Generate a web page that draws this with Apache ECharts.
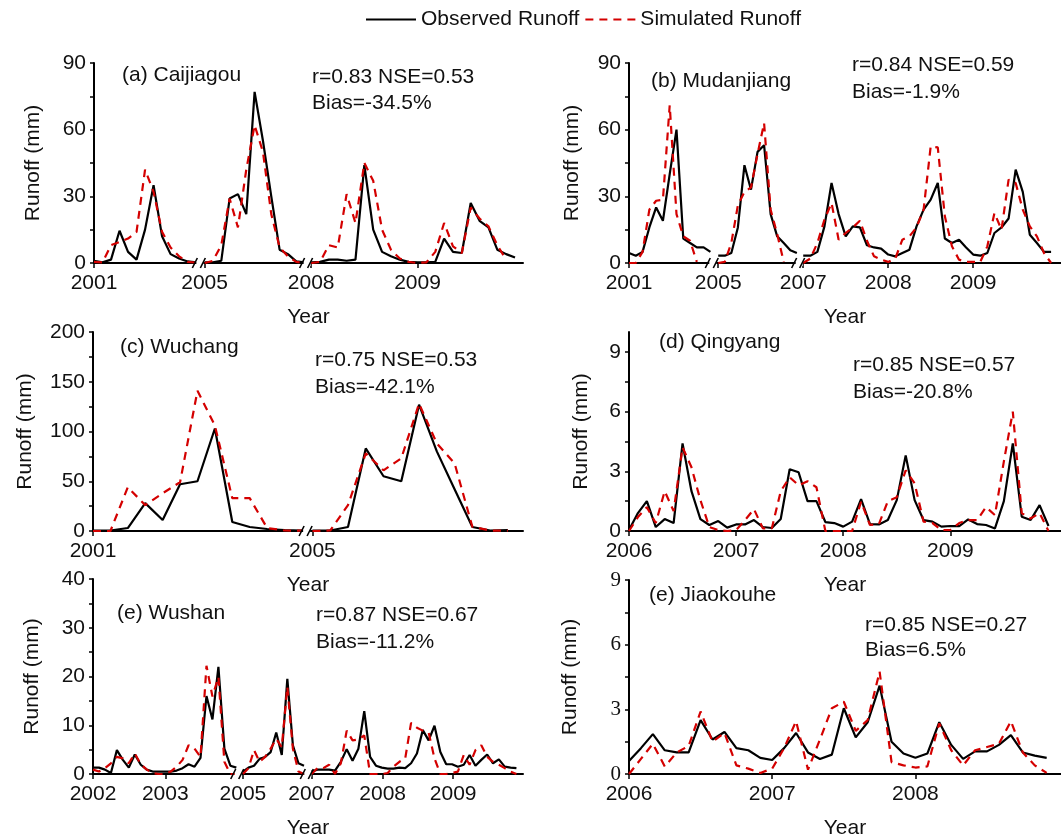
<!DOCTYPE html>
<html lang="en">
<head>
<meta charset="UTF-8">
<title>Observed vs simulated runoff</title>
<script src="https://cdn.jsdelivr.net/npm/echarts@6/dist/echarts.min.js"></script>
<style>
    html, body { margin: 0; padding: 0; background: #fff; }
    #main { width: 1061px; height: 840px; }
</style>
</head>
<body>
<div id="main"></div>

<script>
// ---- data, one block per station (x in months from the first tick) ----

// (a) Caijiagou
var yearsA = ['2001', '2005', '2008', '2009'];
var ticksA = [0, 12.48, 24.5, 36.5];
var breaksA = [12.0, 24.1];
var segStartA = [0, 12.48, 24.5];
var segStepA = [0.96, 0.94, 1];
var obsA = [
    [1, 0.3, 1.5, 14.5, 5, 1.5, 15, 35, 12, 4, 2, 0.7, 0.3],
    [0.3, 0.3, 1, 29, 31, 22, 77, 55, 30, 6, 4, 0.7, 0.3],
    [0.3, 0.5, 1.5, 1.5, 1, 1.5, 44, 15, 5, 3, 1.5, 0.5, 0.3, 0.3, 0.5, 11, 5, 4.5, 27, 19, 16, 6, 4, 2.5]
];
var simA = [
    [0.5, 0.3, 8, 9.5, 11, 14, 42, 32, 14, 7, 3, 0.5, 0.2],
    [0, 1, 8, 29, 16, 42, 62, 50, 22, 7, 3, 0.5, 0],
    [0, 0.5, 8, 7, 31, 18, 45, 37, 15, 6, 2, 0.5, 0, 0.3, 5, 18, 7.5, 4.5, 25, 20, 16.5, 8, 1.5, null]
];
var yTicksA = [0, 30, 60, 90];

// (b) Mudanjiang
var yearsB = ['2001', '2005', '2007', '2008', '2009'];
var ticksB = [0, 12.6, 24.6, 36.6, 48.6];
var breaksB = [11.9, 24.1];
var segStartB = [0, 12.6, 24.6];
var segStepB = [0.958, 0.925, 1];
var obsB = [
    [4.5, 3.3, 5, 16, 25, 19, 40, 60, 11, 9, 7, 7, 5],
    [3.3, 3.3, 4.5, 16, 44, 33, 50, 53, 22, 12, 9, 5.7, 4.5],
    [3.3, 3.3, 5, 16.5, 36, 22, 12, 16.5, 16, 8, 7, 6.5,
     3.8, 3, 4.5, 6, 16.5, 24, 28.5, 36, 11, 9, 10.5, 7,
     3.8, 3.3, 4.5, 13.5, 16, 20, 42, 32, 12.7, 9, 5, 5]
];
var simB = [
    [0, 0, 5, 24, 28, 28.5, 71, 22, 12, 10, 0.5, null, null],
    [0, 0.5, 9, 26, 32, 34, 49, 63, 24, 13, 0.5, null, null],
    [0, 2, 9, 19.5, 27, 10.5, 13.5, 16, 19, 10, 3, 1.5,
     0.5, 2, 10.5, 12, 16, 24, 52.5, 52, 21, 7.5, 1.5, 0.5,
     0.5, 0.5, 7.5, 22.5, 15, 37.5, 36, 24, 16.5, 12, 4.5, 0]
];
var yTicksB = [0, 30, 60, 90];

// (c) Wuchang
var yearsC = ['2001', '2005'];
var ticksC = [0, 12.35];
var breaksC = [12.05];
var segStartC = [0, 12.35];
var segStepC = [0.98, 1];
var obsC = [
    [0.5, 0.5, 3, 28, 11, 47, 50, 103, 9, 4, 2, 1, 0.5],
    [0.5, 0.5, 4, 83, 55, 50, 127, 80, 42, 4, 0.5, 1]
];
var simC = [
    [0, 0, 44, 26, 38, 49, 141, 106, 33, 33, 3, 0.5, 0.3],
    [0, 0.5, 26, 78, 61, 73, 128, 88, 68, 4.3, 0.5, 0.3]
];
var yTicksC = [0, 50, 100, 150, 200];

// (d) Qingyang
var yearsD = ['2006', '2007', '2008', '2009'];
var ticksD = [0, 12, 24, 36];
var breaksD = [];
var segStartD = [0];
var segStepD = [1];
var obsD = [[
    0.05, 0.9, 1.5, 0.2, 0.6, 0.4, 4.4, 2, 0.6, 0.3, 0.5, 0.17,
    0.33, 0.33, 0.55, 0.2, 0.15, 0.6, 3.1, 2.95, 1.5, 1.5, 0.45, 0.4,
    0.22, 0.47, 1.6, 0.35, 0.33, 0.55, 1.55, 3.8, 1.55, 0.55, 0.47, 0.22,
    0.25, 0.25, 0.58, 0.35, 0.3, 0.13, 1.5, 4.4, 0.72, 0.55, 1.3, 0.25
]];
var simD = [[
    0, 0.7, 1.2, 0.4, 2, 1, 4.2, 3.2, 1.55, 0.2, 0.05, 0,
    0.05, 0.55, 1.1, 0.13, 0.13, 2, 2.7, 2.3, 2.5, 2.2, 0, 0,
    0, 0, 1.47, 0.3, 0.35, 1.5, 1.7, 3.05, 2.4, 0.47, 0.4, 0.05,
    0.05, 0.4, 0.55, 0.55, 1.2, 0.8, 3.5, 6, 0.9, 0.63, 0.9, 0
]];
var yTicksD = [0, 3, 6, 9];

// (e) Wushan
var yearsE = ['2002', '2003', '2005', '2007', '2008', '2009'];
var ticksE = [0, 12.1, 25.1, 36.6, 48.5, 60.3];
var breaksE = [24.4, 36.05];
var segStartE = [0, 25.1, 36.6];
var segStepE = [1, 0.93, 0.98];
var obsE = [
    [1.3, 1.3, 0.9, 0.2, 4.9, 2.9, 1.3, 4, 1.9, 0.9, 0.5, 0.5,
     0.5, 0.5, 0.7, 1.2, 2, 1.5, 3.3, 16, 11.2, 22, 5.2, 1.7, 1.3],
    [0.5, 1.3, 1.7, 3.1, 3.5, 4.5, 8.5, 3.9, 19.5, 5.9, 2.2, 1.7],
    [0.5, 0.9, 0.9, 0.9, 0.7, 2.5, 5.1, 2.7, 5.2, 12.9, 3.5, 1.7,
     1.3, 1.1, 1.1, 1.3, 1.2, 2.2, 4.2, 9, 6.9, 9.9, 4.5, 2,
     2, 1.5, 1.9, 3.9, 1.7, 2.9, 4, 2.2, 3, 1.5, 1.3, 1.2]
];
var simE = [
    [0.9, 0.5, 1.2, 2.2, 3.5, 3.2, 2.2, 4.2, 2, 0.9, 0.2, 0,
     0, 0.5, 1.5, 2.9, 5.9, 5.2, 3.5, 22.2, 15.9, 19.9, 2.5, 0, 0],
    [0, 1.2, 4.9, 2.5, 3.5, 5.2, 7.2, 5.5, 17.9, 5.2, 0.5, 0],
    [0, 1.2, 1.2, 1.9, 0, 2.2, 8.9, 6.9, 7.1, 7.9, 0, 0,
     0, 0.2, 1.5, 2.5, 3.2, 10.5, 9.5, 8.9, 8.5, 3.2, 0, 0,
     0.2, 0.5, 3.9, 1.9, 4.9, 5.9, 3.5, 2.5, 1.9, 1.2, 0.5, 0]
];
var yTicksE = [0, 10, 20, 30, 40];

// (e) Jiaokouhe
var yearsF = ['2006', '2007', '2008'];
var ticksF = [0, 12, 24];
var breaksF = [];
var segStartF = [0];
var segStepF = [1];
var obsF = [[
    0.6, 1.2, 1.85, 1.1, 1.0, 1.0, 2.5, 1.6, 1.95, 1.2, 1.1, 0.75,
    0.65, 1.2, 1.9, 1.0, 0.7, 0.9, 3.05, 1.7, 2.4, 4.1, 1.5, 0.95,
    0.75, 0.95, 2.4, 1.35, 0.7, 1.05, 1.05, 1.35, 1.8, 1.0, 0.85, 0.75
]];
var simF = [[
    0, 0.7, 1.4, 0.35, 1.0, 1.3, 2.9, 1.5, 1.9, 0.4, 0.25, 0.05,
    0.25, 1.2, 2.45, 0.2, 1.6, 3.05, 3.35, 2.0, 2.5, 4.75, 0.55, 0.4,
    0.3, 0.35, 2.35, 1.1, 0.4, 1.1, 1.25, 1.4, 2.45, 1.0, 0.4, 0.05
]];
var yTicksF = [0, 3, 6, 9];

var titles = ['(a) Caijiagou', '(b) Mudanjiang', '(c) Wuchang', '(d) Qingyang', '(e) Wushan', '(e) Jiaokouhe'];
var statsR = ['r=0.83 NSE=0.53', 'r=0.84 NSE=0.59', 'r=0.75 NSE=0.53', 'r=0.85 NSE=0.57', 'r=0.87 NSE=0.67', 'r=0.85 NSE=0.27'];
var statsBias = ['Bias=-34.5%', 'Bias=-1.9%', 'Bias=-42.1%', 'Bias=-20.8%', 'Bias=-11.2%', 'Bias=6.5%'];

// ---- layout ----
var FONT = 'Liberation Sans, Arial, sans-serif';
var panels = [
    {grid: {left: 94, top: 63, width: 429, height: 200}, xMax: 48.4, yMax: 90, yNameGap: 50,
     years: yearsA, ticks: ticksA, breaks: breaksA, start: segStartA, step: segStepA, obs: obsA, sim: simA, yTicks: yTicksA,
     titlePos: [122, 75], statPos: [312, 77, 103]},
    {grid: {left: 629, top: 63, width: 432, height: 200}, xMax: 61, yMax: 90, yNameGap: 46,
     years: yearsB, ticks: ticksB, breaks: breaksB, start: segStartB, step: segStepB, obs: obsB, sim: simB, yTicks: yTicksB,
     titlePos: [651, 81], statPos: [852, 65, 92]},
    {grid: {left: 93, top: 332, width: 430, height: 199}, xMax: 24.2, yMax: 200, yNameGap: 57,
     years: yearsC, ticks: ticksC, breaks: breaksC, start: segStartC, step: segStepC, obs: obsC, sim: simC, yTicks: yTicksC,
     titlePos: [120, 347], statPos: [315, 360, 387]},
    {grid: {left: 629, top: 332, width: 432, height: 199}, xMax: 48.4, yMax: 10, yNameGap: 37,
     years: yearsD, ticks: ticksD, breaks: breaksD, start: segStartD, step: segStepD, obs: obsD, sim: simD, yTicks: yTicksD,
     titlePos: [659, 342], statPos: [853, 365, 392]},
    {grid: {left: 93, top: 579, width: 430, height: 200}, xMax: 72, yMax: 40, yNameGap: 50,
     years: yearsE, ticks: ticksE, breaks: breaksE, start: segStartE, step: segStepE, obs: obsE, sim: simE, yTicks: yTicksE,
     titlePos: [117, 613], statPos: [316, 615, 642]},
    {grid: {left: 629, top: 580, width: 432, height: 199}, xMax: 36.2, yMax: 9, yNameGap: 48, serifY: true,
     years: yearsF, ticks: ticksF, breaks: breaksF, start: segStartF, step: segStepF, obs: obsF, sim: simF, yTicks: yTicksF,
     titlePos: [649, 595], statPos: [865, 625, 650]}
];

function toPoints(starts, steps, segs) {
    var out = [];
    for (var s = 0; s < segs.length; s++) {
        for (var k = 0; k < segs[s].length; k++) {
            out.push([starts[s] + k * steps[s], segs[s][k]]);
        }
        out.push([starts[s] + segs[s].length * steps[s], null]);  // gap between segments
    }
    return out;
}

function yearFormatter(ticks, years) {
    return function (v) {
        for (var i = 0; i < ticks.length; i++) {
            if (Math.abs(v - ticks[i]) < 0.01) return years[i];
        }
        return '';
    };
}

function renderBreak(params, api) {
    var p = api.coord([api.value(0), 0]);
    var line = {stroke: '#000', lineWidth: 1.6};
    return {
        type: 'group',
        children: [
            {type: 'rect', shape: {x: p[0] - 4, y: p[1] - 3, width: 7, height: 6}, style: {fill: '#fff'}},
            {type: 'line', shape: {x1: p[0] - 8, y1: p[1] + 5, x2: p[0] - 3, y2: p[1] - 5}, style: line},
            {type: 'line', shape: {x1: p[0] + 0, y1: p[1] + 5, x2: p[0] + 5, y2: p[1] - 5}, style: line}
        ]
    };
}

var option = {
    animation: false,
    textStyle: {fontFamily: FONT},
    legend: {
        left: 360, top: 4,
        itemWidth: 50, itemHeight: 14, itemGap: 5,
        itemStyle: {opacity: 0},
        textStyle: {fontSize: 21, color: '#111', fontFamily: FONT},
        data: ['Observed Runoff', 'Simulated Runoff']
    },
    grid: [], xAxis: [], yAxis: [], series: [], graphic: []
};

panels.forEach(function (p, i) {
    var minor = [];
    for (var t = 1; t < p.yTicks.length; t++) minor.push((p.yTicks[t - 1] + p.yTicks[t]) / 2);

    option.grid.push(p.grid);
    option.xAxis.push({
        type: 'value', gridIndex: i, min: 0, max: p.xMax,
        name: 'Year', nameLocation: 'middle', nameGap: 44,
        nameTextStyle: {fontSize: 21, color: '#111', fontFamily: FONT},
        axisLine: {show: true, onZero: false, lineStyle: {color: '#000', width: 2}},
        axisTick: {show: true, length: 5, customValues: p.ticks, lineStyle: {color: '#000', width: 1.5}},
        axisLabel: {customValues: p.ticks, fontSize: 21, color: '#111', margin: 10, fontFamily: FONT,
                    formatter: yearFormatter(p.ticks, p.years)},
        splitLine: {show: false}
    });
    option.yAxis.push({
        type: 'value', gridIndex: i, min: 0, max: p.yMax,
        name: 'Runoff (mm)', nameLocation: 'middle', nameRotate: 90, nameGap: p.yNameGap,
        nameTextStyle: {fontSize: 21, color: '#111', fontFamily: FONT},
        axisLine: {show: true, onZero: false, lineStyle: {color: '#000', width: 2}},
        axisTick: {show: true, length: 4, customValues: p.yTicks.concat(minor), lineStyle: {color: '#000', width: 1.5}},
        axisLabel: {customValues: p.yTicks, fontSize: 21, color: '#111', margin: 8,
                    fontFamily: p.serifY ? 'Liberation Serif, Times New Roman, serif' : FONT},
        splitLine: {show: false}
    });

    option.series.push({
        name: 'Observed Runoff', type: 'line', xAxisIndex: i, yAxisIndex: i,
        data: toPoints(p.start, p.step, p.obs),
        symbol: 'none', connectNulls: false, z: 3,
        itemStyle: {color: '#000'},
        lineStyle: {color: '#000', width: 2.2}
    });
    option.series.push({
        name: 'Simulated Runoff', type: 'line', xAxisIndex: i, yAxisIndex: i,
        data: toPoints(p.start, p.step, p.sim),
        symbol: 'none', connectNulls: false, z: 4,
        itemStyle: {color: '#d40000'},
        lineStyle: {color: '#d40000', width: 2.2, type: [8, 6]}
    });
    if (p.breaks.length) {
        option.series.push({
            type: 'custom', xAxisIndex: i, yAxisIndex: i, z: 10, silent: true,
            data: p.breaks.map(function (b) { return [b, 0]; }),
            renderItem: renderBreak
        });
    }

    var txt = function (x, y, s) {
        return {type: 'text', x: x, y: y, silent: true,
                style: {text: s, fontSize: 21, fontFamily: FONT, fill: '#111', verticalAlign: 'middle'}};
    };
    option.graphic.push(txt(p.titlePos[0], p.titlePos[1], titles[i]));
    option.graphic.push(txt(p.statPos[0], p.statPos[1], statsR[i]));
    option.graphic.push(txt(p.statPos[0], p.statPos[2], statsBias[i]));
});

var myChart = echarts.init(document.getElementById('main'));
myChart.setOption(option);
</script>
</body>
</html>
